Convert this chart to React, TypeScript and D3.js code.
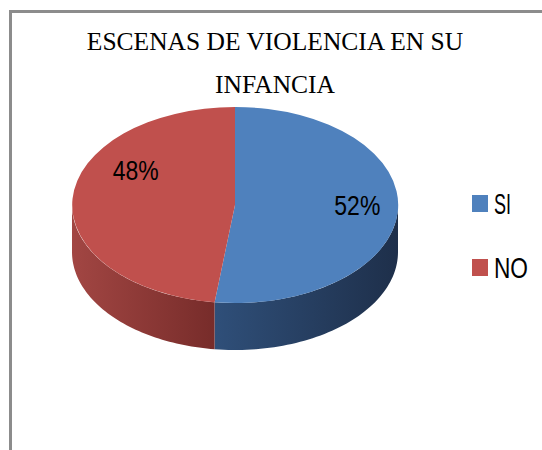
import React from "react";
import * as d3 from "d3";

const categories = ["SI", "NO"];
const values = [52, 48];
const colors = ["#4f81bd", "#c0504d"];
const sideLight = ["#2f4f79", "#a24643"];
const sideDark = ["#1e2f4a", "#772c2a"];
const titleLines = ["ESCENAS DE VIOLENCIA EN SU", "INFANCIA"];

const W = 542;
const H = 450;
const cx = 235;
const cy = 205;
const rx = 163;
const ry = 98;
const depth = 47;

function pt(a: number, dy = 0): [number, number] {
  return [cx + rx * Math.sin(a), cy - ry * Math.cos(a) + dy];
}

export default function App() {
  const pie = d3.pie<number>().sort(null).value((d) => d)(values);
  const arc = d3.arc<d3.PieArcDatum<number>>().innerRadius(0).outerRadius(1);

  const sides = pie.map((s, i) => {
    const a0 = Math.max(s.startAngle, Math.PI / 2);
    const a1 = Math.min(s.endAngle, (3 * Math.PI) / 2);
    if (a1 <= a0) return null;
    const n = 60;
    const top: [number, number][] = [];
    const bot: [number, number][] = [];
    for (let k = 0; k <= n; k++) {
      const a = a0 + ((a1 - a0) * k) / n;
      top.push(pt(a));
      bot.push(pt(a, depth));
    }
    const pts = top.concat(bot.reverse());
    const d = d3.line()(pts) + "Z";
    const xs = pts.map((p) => p[0]);
    return { d, i, x0: Math.min(...xs), x1: Math.max(...xs) };
  });

  const labelOffsets = [
    [41, -3],
    [-18, -32],
  ];

  return (
    <svg width={W} height={H} style={{ position: "absolute", left: 0, top: 0 }}>
      <defs>
        {sides.map((s) =>
          s ? (
            <linearGradient
              key={s.i}
              id={"side" + s.i}
              gradientUnits="userSpaceOnUse"
              x1={s.i === 0 ? s.x0 : s.x0}
              x2={s.x1}
              y1={0}
              y2={0}
            >
              <stop offset="0" stopColor={s.i === 0 ? sideLight[0] : sideLight[1]} />
              <stop offset="1" stopColor={s.i === 0 ? sideDark[0] : sideDark[1]} />
            </linearGradient>
          ) : null
        )}
      </defs>
      <rect x={0} y={0} width={W} height={H} fill="#fff" />
      <rect x={10.5} y={11.5} width={700} height={700} fill="none" stroke="#8c8c8c" strokeWidth={3} />
      {titleLines.map((t, i) => (
        <text
          key={i}
          x={275}
          y={50 + i * 43}
          textAnchor="middle"
          fontFamily="'Liberation Serif', 'Times New Roman', serif"
          fontSize={25.5}
          fill="#000"
        >
          {t}
        </text>
      ))}
      {sides.map((s) => (s ? <path key={s.i} d={s.d} fill={`url(#side${s.i})`} /> : null))}
      <g transform={`translate(${cx},${cy}) scale(${rx},${ry})`}>
        {pie.map((s, i) => (
          <path key={i} d={arc(s) || ""} fill={colors[i]} />
        ))}
      </g>
      {pie.map((s, i) => {
        const [ux, uy] = arc.centroid(s);
        const x = cx + ux * rx + labelOffsets[i][0];
        const y = cy + uy * ry + labelOffsets[i][1];
        return (
          <text
            key={i}
            x={x}
            y={y + 10}
            textAnchor="middle"
            fontFamily="'Liberation Sans Narrow', 'Liberation Sans', Arial, sans-serif"
            fontSize={28}
            textLength={46}
            lengthAdjust="spacingAndGlyphs"
            fill="#000"
          >
            {`${values[i]}%`}
          </text>
        );
      })}
      {categories.map((c, i) => (
        <g key={c} transform={`translate(472,${195 + i * 64})`}>
          <rect x={0} y={0} width={16} height={17} fill={colors[i]} />
          <text
            x={22}
            y={19}
            fontFamily="'Liberation Sans Narrow', 'Liberation Sans', Arial, sans-serif"
            fontSize={30}
            textLength={c === "SI" ? 17 : 34}
            lengthAdjust="spacingAndGlyphs"
            fill="#000"
          >
            {c}
          </text>
        </g>
      ))}
    </svg>
  );
}
